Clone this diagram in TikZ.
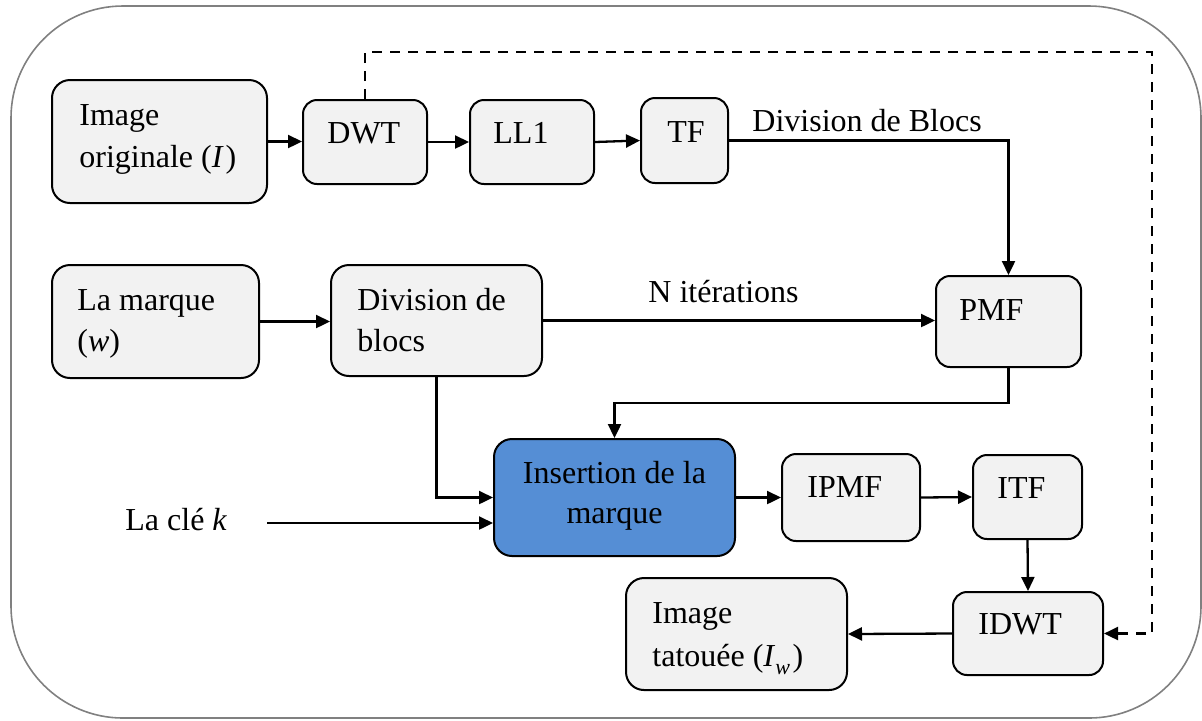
\documentclass[tikz,border=0pt]{standalone}
\usepackage{fontspec}
\setmainfont{Liberation Serif}
\usetikzlibrary{arrows.meta}
\definecolor{boxfill}{HTML}{F2F2F2}
\definecolor{insblue}{HTML}{558ED5}
\definecolor{framegray}{HTML}{808080}
\tikzset{
  blk/.style={draw=black, line width=1pt, fill=boxfill, rounded corners=7pt, inner sep=0pt},
  bigblk/.style={blk, rounded corners=9pt},
  txt/.style={anchor=base west, inner sep=0pt, font=\fontsize{16}{21}\selectfont},
  ctxt/.style={txt, anchor=base},
  link/.style={line width=1.15pt, -{Triangle[length=7pt,width=6.5pt]}},
  feedback/.style={link, dash pattern=on 5pt off 4pt},
}
\begin{document}
\begin{tikzpicture}[x=0.5pt,y=-0.5pt]
\useasboundingbox (0,0) rectangle (1202,720);

% outer frame
\draw[framegray, line width=0.8pt, rounded corners=56pt] (11,6) rectangle (1201,718);

% blocks
\node[bigblk, minimum width=107.5pt, minimum height=61.5pt] (img)  at (159.5,141.5) {};
\node[blk,    minimum width=62pt,    minimum height=42pt]   (dwt)  at (365,142) {};
\node[blk,    minimum width=62pt,    minimum height=42pt]   (ll1)  at (532,142) {};
\node[blk,    minimum width=43.5pt,  minimum height=42.5pt] (tf)   at (684.5,140.5) {};
\node[blk,    minimum width=72.5pt,  minimum height=45.5pt] (pmf)  at (1008.5,321.5) {};
\node[bigblk, minimum width=103.5pt, minimum height=56.5pt] (mrk)  at (155.5,321.5) {};
\node[bigblk, minimum width=105.5pt, minimum height=55.5pt] (div)  at (436.5,320.5) {};
\node[bigblk, fill=insblue, minimum width=120.5pt, minimum height=58.5pt] (ins) at (614.5,497.5) {};
\node[blk,    minimum width=69pt,    minimum height=43.5pt] (ipmf) at (851,497.5) {};
\node[blk,    minimum width=54.5pt,  minimum height=42pt]   (itf)  at (1027.5,497) {};
\node[blk,    minimum width=75pt,    minimum height=41.5pt] (idwt) at (1028,633.5) {};
\node[bigblk, minimum width=110.5pt, minimum height=56pt]   (tat)  at (736.5,634) {};

% block texts
\node[txt] (imgA) at (79,125) {Image};
\node[txt] (imgB) at (79,167) {originale (\textit{I}\kern0.06em)};
\node[txt] (dwtT) at (327,143) {DWT};
\node[txt] (ll1T) at (493,143) {LL1};
\node[txt] (tfT)  at (667,142) {TF};
\node[txt] (pmfT) at (959,320) {PMF};
\node[txt] (mrkA) at (77,310) {La marque};
\node[txt] (mrkB) at (77,351) {(\textit{w})};
\node[txt] (divA) at (357,310) {Division de};
\node[txt] (divB) at (357,351) {blocs};
\node[ctxt] (insA) at (614.5,483) {Insertion de la};
\node[ctxt] (insB) at (614.5,523) {marque};
\node[txt] (ipmfT) at (807,497) {IPMF};
\node[txt] (itfT)  at (997,498) {ITF};
\node[txt] (idwtT) at (978,634) {IDWT};
\node[txt] (tatA)  at (652,623) {Image};
\node[txt] (tatB)  at (652,666) {tatouée (\textit{I}\raisebox{-0.28em}{\fontsize{11}{13}\selectfont\textit{w}}\kern0.08em)};

% free labels
\node[txt] (lblDiv) at (752,131) {Division de Blocs};
\node[txt] (lblN)   at (648,302) {N itérations};
\node[txt] (lblK)   at (125,530) {La clé \textit{k}};

\coordinate (kstart) at (267,523);
\coordinate (dtop) at (1152,52);

% connectors
\draw[link] (img.east) -- (img.east -| dwt.west);
\draw[link] (dwt.east) -- (ll1.west);
\draw[link] (ll1.east) -- (tf.west);
\draw[link] (tf.east) -| (pmf.north);
\draw[link] (mrk.east) -- (mrk.east -| div.west);
\draw[link] (div.east) -- (div.east -| pmf.west);
\draw[link] (pmf.south) -- ++(0,35) -| (ins.north);
\draw[link] (div.south) |- (ins.west);
\draw[link] (kstart) -- (kstart -| ins.west);
\draw[link] (ins.east) -- (ipmf.west);
\draw[link] (ipmf.east) -- (itf.west);
\draw[link] (itf.south) -- (idwt.north);
\draw[link] (idwt.west) -- (tat.east);
\draw[feedback] (dwt.north) |- (dtop) |- (idwt.east);
\end{tikzpicture}
\end{document}
